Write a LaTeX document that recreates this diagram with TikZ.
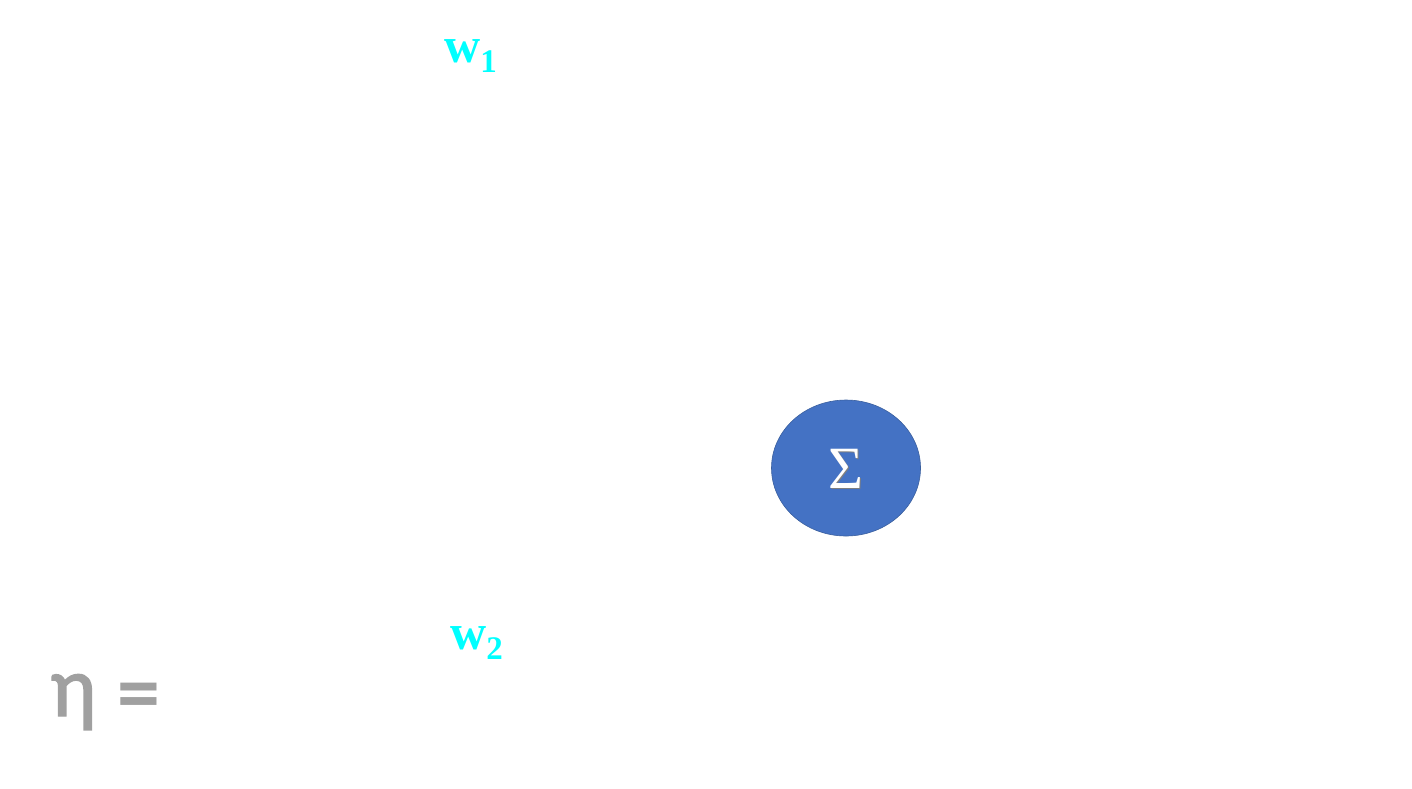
\documentclass[tikz,border=0pt]{standalone}
\usetikzlibrary{shapes.geometric}
\usepackage{fontspec}
\setmainfont{Liberation Serif}
\newfontfamily\carl{Carlito}
\newfontfamily\carlfb[FakeBold=1.6]{Carlito}
\definecolor{wcyan}{HTML}{00FFFF}
\definecolor{sumblue}{HTML}{4472C4}
\definecolor{sumedge}{HTML}{3A5F9E}
\definecolor{etagray}{HTML}{A0A0A0}
\definecolor{sigshadow}{HTML}{7F7F7F}
\begin{document}
\begin{tikzpicture}[x=1pt,y=-1pt,
  wlabel/.style={text=wcyan,font=\fontsize{50}{50}\selectfont\bfseries,inner sep=0pt,anchor=base west},
  sumnode/.style={ellipse,fill=sumblue,draw=sumedge,line width=0.6pt,minimum width=149pt,minimum height=136pt,inner sep=0pt},
  sigtext/.style={font=\fontsize{60}{60}\selectfont,inner sep=0pt,anchor=base},
  etatext/.style={text=etagray,font=\carlfb\fontsize{86}{86}\selectfont,inner sep=0pt,anchor=base west}]
\useasboundingbox (0,0) rectangle (1412,788);
\node[wlabel] (w1) at (444,62) {w\raisebox{-10pt}{\fontsize{33}{33}\selectfont 1}};
\node[wlabel] (w2) at (450,649) {w\raisebox{-10pt}{\fontsize{33}{33}\selectfont 2}};
\node[sumnode] (sum) at (846,468) {};
\node[sigtext,text=sigshadow] (sigs) at (847.2,489.2) {Σ};
\node[sigtext,text=white] (sig) at (846,488) {Σ};
\node[etatext] (eta) at (50,716) {η};
\node[etatext,font=\carl\bfseries\fontsize{86}{86}\selectfont] (eq) at (117,721) {=};
\end{tikzpicture}
\end{document}
